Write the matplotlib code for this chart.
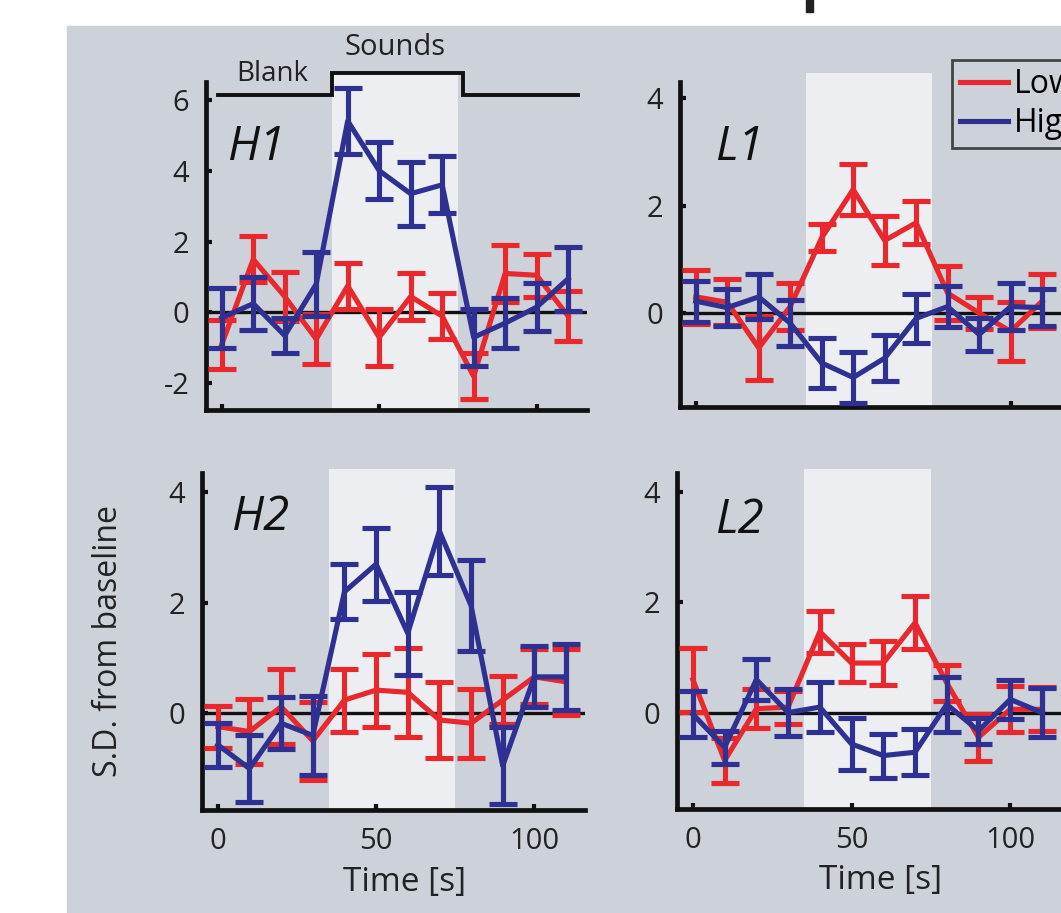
"""Four-panel time course: S.D. from baseline for low/high sound stimuli."""
import matplotlib
matplotlib.use("Agg")
import matplotlib.pyplot as plt
from matplotlib.patches import Rectangle
from matplotlib.lines import Line2D

plt.rcParams["font.family"] = ["Open Sans", "DejaVu Sans"]

time = [0, 10, 20, 30, 40, 50, 60, 70, 80, 90, 100, 110]

# mean and error per panel, low (red) and high (blue) stimuli
h1_low = [-0.9, 1.5, 0.45, -0.75, 0.75, -0.7, 0.45, -0.1, -1.8, 1.1, 1.05, -0.1]
h1_low_err = [0.7, 0.65, 0.7, 0.7, 0.65, 0.8, 0.65, 0.65, 0.65, 0.8, 0.6, 0.7]
h1_high = [-0.15, 0.25, -0.65, 0.8, 5.4, 4.0, 3.35, 3.6, -0.7, -0.3, 0.15, 0.95]
h1_high_err = [0.85, 0.75, 0.5, 0.9, 0.93, 0.8, 0.9, 0.8, 0.8, 0.7, 0.67, 0.9]

l1_low = [0.3, 0.2, -0.65, 0.12, 1.4, 2.3, 1.35, 1.68, 0.37, 0.0, -0.34, 0.22]
l1_low_err = [0.5, 0.43, 0.6, 0.43, 0.25, 0.48, 0.45, 0.4, 0.5, 0.3, 0.55, 0.5]
l1_high = [0.22, 0.1, 0.3, -0.19, -0.93, -1.2, -0.84, -0.1, 0.12, -0.4, 0.12, 0.1]
l1_high_err = [0.38, 0.35, 0.42, 0.43, 0.46, 0.48, 0.43, 0.46, 0.39, 0.31, 0.43, 0.34]

h2_low = [-0.24, -0.33, 0.12, -0.5, 0.24, 0.42, 0.38, -0.12, -0.18, 0.24, 0.66, 0.57]
h2_low_err = [0.38, 0.59, 0.68, 0.7, 0.57, 0.66, 0.8, 0.68, 0.62, 0.44, 0.5, 0.6]
h2_high = [-0.57, -1.0, -0.18, -0.4, 2.2, 2.7, 1.45, 3.3, 1.95, -0.95, 0.66, 0.66]
h2_high_err = [0.4, 0.6, 0.47, 0.72, 0.5, 0.66, 0.75, 0.8, 0.83, 0.7, 0.55, 0.6]

l2_low = [0.6, -0.87, 0.07, 0.1, 1.47, 0.9, 0.9, 1.63, 0.54, -0.45, 0.06, 0.06]
l2_low_err = [0.58, 0.4, 0.35, 0.3, 0.38, 0.35, 0.4, 0.48, 0.33, 0.42, 0.42, 0.4]
l2_high = [-0.03, -0.63, 0.6, 0.0, 0.1, -0.57, -0.78, -0.72, 0.15, -0.33, 0.24, 0.0]
l2_high_err = [0.42, 0.3, 0.38, 0.42, 0.46, 0.48, 0.4, 0.42, 0.5, 0.24, 0.36, 0.45]

sound_on, sound_off = 35, 75
# stimulus trace above H1
trace_t = [-1.3, 35.1, 35.1, 76.6, 76.6, 113]
trace_y = [6.14, 6.14, 6.76, 6.76, 6.14, 6.14]

RED = "#e8282c"
BLUE = "#2e3192"
BG = "#cdd1d9"
SHADE = "#eceef1"
LW = 3.7

W, H = 1061, 913
fig = plt.figure(figsize=(W / 100, H / 100), dpi=100)
fig.patches.append(Rectangle((67 / W, 0), 1 - 67 / W, 1 - 26 / H,
                             transform=fig.transFigure, color=BG, zorder=-10))
fig.patches.append(Rectangle((806 / W, 1 - 12 / H), 7 / W, 12 / H,
                             transform=fig.transFigure, color="#222222"))


def px_axes(left, right, top, bottom):
    return fig.add_axes([left / W, 1 - bottom / H, (right - left) / W, (bottom - top) / H])


panels = [
    ("H1", px_axes(206, 587, 82, 410), h1_low, h1_low_err, h1_high, h1_high_err,
     (-2.75, 6.5), [-2, 0, 2, 4, 6], 1.028, (0.058, 0.80), False),
    ("L1", px_axes(680, 1061, 82, 407), l1_low, l1_low_err, l1_high, l1_high_err,
     (-1.75, 4.3), [0, 2, 4], 1.028, (0.092, 0.80), False),
    ("H2", px_axes(202, 585, 473, 810), h2_low, h2_low_err, h2_high, h2_high_err,
     (-1.75, 4.35), [0, 2, 4], 1.012, (0.078, 0.87), True),
    ("L2", px_axes(677, 1061, 473, 809), l2_low, l2_low_err, l2_high, l2_high_err,
     (-1.75, 4.35), [0, 2, 4], 1.012, (0.099, 0.86), True),
]

for name, ax, lo, lo_e, hi, hi_e, ylim, yticks, shade_top, lab_pos, bottom in panels:
    ax.set_facecolor("none")
    ax.axvspan(sound_on, sound_off, ymin=0, ymax=shade_top, color=SHADE,
               lw=0, clip_on=False, zorder=0)
    ax.axhline(0, color="#111111", lw=2.4, zorder=1)
    ax.errorbar(time, lo, yerr=lo_e, color=RED, lw=LW, elinewidth=LW,
                capsize=10, capthick=LW, zorder=3, clip_on=False)
    ax.errorbar(time, hi, yerr=hi_e, color=BLUE, lw=LW, elinewidth=LW,
                capsize=10, capthick=LW, zorder=4, clip_on=False)
    ax.set_xlim(-5, 116)
    ax.set_ylim(*ylim)
    ax.set_yticks(yticks)
    ax.set_yticklabels([str(v) for v in yticks])
    ax.set_xticks([0, 50, 100])
    for s in ("top", "right"):
        ax.spines[s].set_visible(False)
    for s in ("left", "bottom"):
        ax.spines[s].set_linewidth(3.4)
        ax.spines[s].set_color("#111111")
    ax.tick_params(direction="in", length=4, width=3, color="#111111",
                   labelsize=21, labelcolor="#222222", pad=12)
    if bottom:
        ax.set_xlabel("Time [s]", fontsize=24, color="#222222")
        ax.xaxis.set_label_coords(0.53, -0.165)
    else:
        ax.tick_params(axis="x", labelbottom=False)
    ax.text(lab_pos[0], lab_pos[1], name, transform=ax.transAxes, fontsize=34,
            style="italic", color="#111111", va="center", ha="left")

ax_h1, ax_l1, ax_h2, ax_l2 = (p[1] for p in panels)

ax_h1.plot(trace_t, trace_y, color="#111111", lw=2.8, clip_on=False,
           solid_joinstyle="miter")
ax_h1.text(16, 6.72, "Blank", fontsize=20, color="#222222", ha="center", va="center")
ax_h1.text(55, 7.46, "Sounds", fontsize=21, color="#222222", ha="center", va="center")

ax_h2.set_ylabel("S.D. from baseline", fontsize=23, color="#222222")
ax_h2.yaxis.set_label_coords(-0.2, 0.5)

handles = [Line2D([], [], color=RED, lw=LW), Line2D([], [], color=BLUE, lw=LW)]
leg = ax_l1.legend(handles, ["Low", "High"], loc="upper left",
                   bbox_to_anchor=(0.714, 1.068), fontsize=23, frameon=True,
                   fancybox=False, handlelength=1.5, handletextpad=0.2,
                   borderpad=0.25, labelspacing=0.2, borderaxespad=0)
leg.get_frame().set_facecolor(BG)
leg.get_frame().set_edgecolor("#444444")
leg.get_frame().set_linewidth(2)
leg.get_frame().set_alpha(1)

fig.savefig("out.png", dpi=100)
